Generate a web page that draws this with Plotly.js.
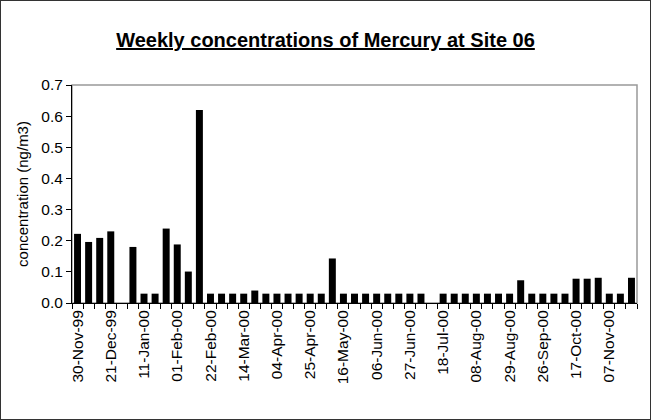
<!DOCTYPE html>
<html>
<head>
<meta charset="utf-8">
<script src="https://cdn.plot.ly/plotly-3.0.1.min.js"></script>
<style>
  html, body { margin: 0; padding: 0; background: #fff; }
  #chart { width: 651px; height: 420px; box-sizing: border-box; border: 1px solid #333; }
</style>
</head>
<body>
<div id="chart"></div>
<script>
// Weekly sampling dates (category axis)
const weeks = [
  "30-Nov-99","07-Dec-99","14-Dec-99","21-Dec-99","28-Dec-99","04-Jan-00","11-Jan-00","18-Jan-00","25-Jan-00",
  "01-Feb-00","08-Feb-00","15-Feb-00","22-Feb-00","29-Feb-00","07-Mar-00","14-Mar-00","21-Mar-00","28-Mar-00",
  "04-Apr-00","11-Apr-00","18-Apr-00","25-Apr-00","02-May-00","09-May-00","16-May-00","23-May-00","30-May-00",
  "06-Jun-00","13-Jun-00","20-Jun-00","27-Jun-00","04-Jul-00","11-Jul-00","18-Jul-00","25-Jul-00","01-Aug-00",
  "08-Aug-00","15-Aug-00","22-Aug-00","29-Aug-00","05-Sep-00","12-Sep-00","26-Sep-00","03-Oct-00","10-Oct-00",
  "17-Oct-00","24-Oct-00","31-Oct-00","07-Nov-00","14-Nov-00","21-Nov-00"
];
// Mercury concentration (ng/m3); null = no sample
const mercury = [
  0.222, 0.196, 0.209, 0.230, null, 0.180, 0.030, 0.030, 0.239,
  0.188, 0.101, 0.620, 0.030, 0.030, 0.030, 0.030, 0.040, 0.030,
  0.030, 0.030, 0.030, 0.030, 0.030, 0.143, 0.030, 0.030, 0.030,
  0.030, 0.030, 0.030, 0.030, 0.030, null, 0.030, 0.030, 0.030,
  0.030, 0.030, 0.030, 0.030, 0.073, 0.030, 0.030, 0.030, 0.030,
  0.078, 0.078, 0.081, 0.030, 0.030, 0.081
];
// Labelled ticks (every third week)
const labelledWeeks = [
  "30-Nov-99","21-Dec-99","11-Jan-00","01-Feb-00","22-Feb-00","14-Mar-00","04-Apr-00","25-Apr-00",
  "16-May-00","06-Jun-00","27-Jun-00","18-Jul-00","08-Aug-00","29-Aug-00","26-Sep-00","17-Oct-00","07-Nov-00"
];

const tickText = weeks.map(w => labelledWeeks.includes(w) ? w : "");

const font = "'Liberation Sans', Arial, sans-serif";

const trace = {
  type: "bar",
  x: weeks,
  y: mercury,
  marker: { color: "#000000", line: { width: 0 } },
  hoverinfo: "x+y"
};

const layout = {
  width: 649, height: 418,
  margin: { l: 71, r: 13, t: 84, b: 116 },
  paper_bgcolor: "#ffffff",
  plot_bgcolor: "#ffffff",
  font: { family: font, color: "#000" },
  title: {
    text: "<b><u>Weekly concentrations of Mercury at Site 06</u></b>",
    font: { family: font, size: 20, color: "#000" },
    x: 0.5, xanchor: "center",
    y: 1 - 39 / 418, yanchor: "middle", yref: "container"
  },
  bargap: 0.37,
  showlegend: false,
  xaxis: {
    type: "category",
    tickvals: weeks,
    ticktext: tickText,
    tickson: "boundaries",
    ticks: "outside", ticklen: 5, tickwidth: 1, tickcolor: "#000",
    tickangle: -90,
    tickfont: { family: font, size: 15.5, color: "#000" },
    showline: true, linecolor: "#000", linewidth: 1,
    showgrid: false, zeroline: false,
    range: [-0.5, 50.5],
    fixedrange: true
  },
  yaxis: {
    range: [0, 0.7],
    dtick: 0.1, tick0: 0,
    tickformat: ".1f",
    ticks: "outside", ticklen: 5, tickwidth: 1, tickcolor: "#000",
    tickfont: { family: font, size: 15.5, color: "#000" },
    showline: true, linecolor: "#000", linewidth: 1,
    showgrid: false, zeroline: false,
    title: { text: "concentration (ng/m3)", font: { family: font, size: 15, color: "#000" }, standoff: 9 },
    fixedrange: true
  },
  shapes: [{
    type: "rect", xref: "paper", yref: "paper",
    x0: 0, x1: 1, y0: 0, y1: 1,
    line: { color: "#999999", width: 1.5 },
    layer: "below"
  }]
};

Plotly.newPlot("chart", [trace], layout, { displayModeBar: false, staticPlot: true });
</script>
</body>
</html>
